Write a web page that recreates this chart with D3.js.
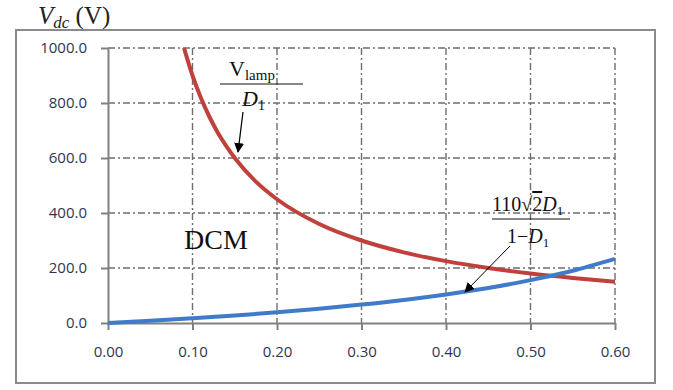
<!DOCTYPE html>
<html>
<head>
<meta charset="UTF-8">
<script src="https://d3js.org/d3.v7.min.js"></script>
<style>
  body { margin: 0; background: #fff; }
  text { font-family: "Open Sans", "DejaVu Sans", sans-serif; }
  .serif { font-family: "Liberation Serif", "DejaVu Serif", serif; }
</style>
</head>
<body>
<div class="chart"></div>
<script>
// duty cycle D1 and read-off values (V)
var xTicks = [0, 0.1, 0.2, 0.3, 0.4, 0.5, 0.6];
var yTicks = [0, 200, 400, 600, 800, 1000];

var lampD = [0.09, 0.10, 0.11, 0.12, 0.13, 0.14, 0.15, 0.175, 0.20, 0.25, 0.30, 0.35, 0.40, 0.45, 0.50, 0.55, 0.60];
var lampV = [1000, 900, 818, 750, 692, 643, 600, 514, 450, 360, 300, 257, 225, 200, 180, 164, 150];

var boostD = [0, 0.05, 0.10, 0.15, 0.20, 0.25, 0.30, 0.35, 0.40, 0.45, 0.50, 0.55, 0.60];
var boostV = [0, 8, 17, 27, 39, 52, 67, 84, 104, 127, 156, 190, 233];

var W = 673, H = 390;
var pLeft = 108, pRight = 615, pTop = 48, pBottom = 323;

var svg = d3.select(".chart").append("svg")
  .attr("width", W).attr("height", H);

// outer frame
svg.append("rect")
  .attr("x", 16).attr("y", 30).attr("width", 639).attr("height", 353)
  .attr("fill", "none").attr("stroke", "#8a8a8a").attr("stroke-width", 2);

var x = d3.scaleLinear().domain([0, 0.6]).range([pLeft, pRight]);
var y = d3.scaleLinear().domain([0, 1000]).range([pBottom, pTop]);

// grid (dash-dot)
svg.append("g").selectAll("line").data(yTicks.slice(1)).join("line")
  .attr("x1", pLeft).attr("x2", pRight)
  .attr("y1", d => y(d)).attr("y2", d => y(d))
  .attr("stroke", "#6e6e6e").attr("stroke-width", 1.4)
  .attr("stroke-dasharray", "7,3,2,3");
svg.append("g").selectAll("line").data(xTicks.slice(1)).join("line")
  .attr("x1", d => x(d)).attr("x2", d => x(d))
  .attr("y1", pTop).attr("y2", pBottom)
  .attr("stroke", "#6e6e6e").attr("stroke-width", 1.4)
  .attr("stroke-dasharray", "7,3,2,3");

// axes
var xAxis = svg.append("g")
  .attr("transform", "translate(0," + pBottom + ")")
  .call(d3.axisBottom(x).tickValues(xTicks).tickFormat(d3.format(".2f")).tickSize(7).tickSizeOuter(0).tickPadding(16));
var yAxis = svg.append("g")
  .attr("transform", "translate(" + pLeft + ",0)")
  .call(d3.axisLeft(y).tickValues(yTicks).tickFormat(d3.format(".1f")).tickSize(7).tickSizeOuter(0).tickPadding(14));

[xAxis, yAxis].forEach(function(a) {
  a.select(".domain").attr("stroke", "#808080").attr("stroke-width", 2);
  a.selectAll(".tick line").attr("stroke", "#808080").attr("stroke-width", 2);
  a.selectAll(".tick text").attr("fill", "#2f3550")
    .style("font-size", "15px").style("font-family", "'Open Sans', sans-serif");
});

// curves
var line = d3.line().x(d => x(d[0])).y(d => y(d[1])).curve(d3.curveMonotoneX);

svg.append("path")
  .datum(lampD.map((d, i) => [d, lampV[i]]))
  .attr("d", line)
  .attr("fill", "none").attr("stroke", "#c0403c").attr("stroke-width", 4);

svg.append("path")
  .datum(boostD.map((d, i) => [d, boostV[i]]))
  .attr("d", line)
  .attr("fill", "none").attr("stroke", "#3f7bc8").attr("stroke-width", 4);

// arrow marker
svg.append("defs").append("marker")
  .attr("id", "arr").attr("viewBox", "0 0 10 10")
  .attr("refX", 9).attr("refY", 5)
  .attr("markerWidth", 10).attr("markerHeight", 10)
  .attr("markerUnits", "userSpaceOnUse")
  .attr("orient", "auto")
  .append("path").attr("d", "M0,0 L10,5 L0,10 z").attr("fill", "#000");

// title V_dc (V)
var title = svg.append("text").attr("class", "serif")
  .attr("x", 38).attr("y", 24).style("font-size", "25px").attr("fill", "#222");
title.append("tspan").attr("font-style", "italic").text("V");
title.append("tspan").attr("font-style", "italic").attr("dy", 4).style("font-size", "17px").text("dc");
title.append("tspan").attr("dy", -4).text(" (V)");

// DCM
svg.append("text").attr("class", "serif")
  .attr("x", 184).attr("y", 249).style("font-size", "28px").attr("fill", "#111")
  .text("DCM");

// V_lamp / D1
var f1 = svg.append("g").attr("fill", "#111");
var n1 = f1.append("text").attr("class", "serif").attr("x", 229).attr("y", 76).style("font-size", "22px");
n1.append("tspan").text("V");
n1.append("tspan").attr("dy", 4).style("font-size", "15px").text("lamp");
f1.append("line").attr("x1", 220).attr("x2", 303).attr("y1", 84).attr("y2", 84)
  .attr("stroke", "#111").attr("stroke-width", 1.2);
var d1 = f1.append("text").attr("class", "serif").attr("x", 242).attr("y", 106).style("font-size", "22px");
d1.append("tspan").attr("font-style", "italic").text("D");
d1.append("tspan").attr("dy", 4).style("font-size", "14px").text("1");
svg.append("line").attr("x1", 243).attr("y1", 112).attr("x2", 238).attr("y2", 152)
  .attr("stroke", "#000").attr("stroke-width", 1.2).attr("marker-end", "url(#arr)");

// 110√2 D1 / (1 - D1)
var f2 = svg.append("g").attr("fill", "#111");
var n2 = f2.append("text").attr("class", "serif").attr("x", 492).attr("y", 211).style("font-size", "20px");
n2.append("tspan").text("110\u221A");
n2.append("tspan").style("text-decoration", "overline").text("2");
n2.append("tspan").attr("font-style", "italic").text("D");
n2.append("tspan").attr("dy", 4).style("font-size", "13px").text("1");
f2.append("line").attr("x1", 492).attr("x2", 570).attr("y1", 219).attr("y2", 219)
  .attr("stroke", "#111").attr("stroke-width", 1.2);
var d2 = f2.append("text").attr("class", "serif").attr("x", 507).attr("y", 243).style("font-size", "20px");
d2.append("tspan").text("1\u2212");
d2.append("tspan").attr("font-style", "italic").text("D");
d2.append("tspan").attr("dy", 4).style("font-size", "13px").text("1");
svg.append("line").attr("x1", 510).attr("y1", 246).attr("x2", 465).attr("y2", 292)
  .attr("stroke", "#000").attr("stroke-width", 1).attr("marker-end", "url(#arr)");
</script>
</body>
</html>
